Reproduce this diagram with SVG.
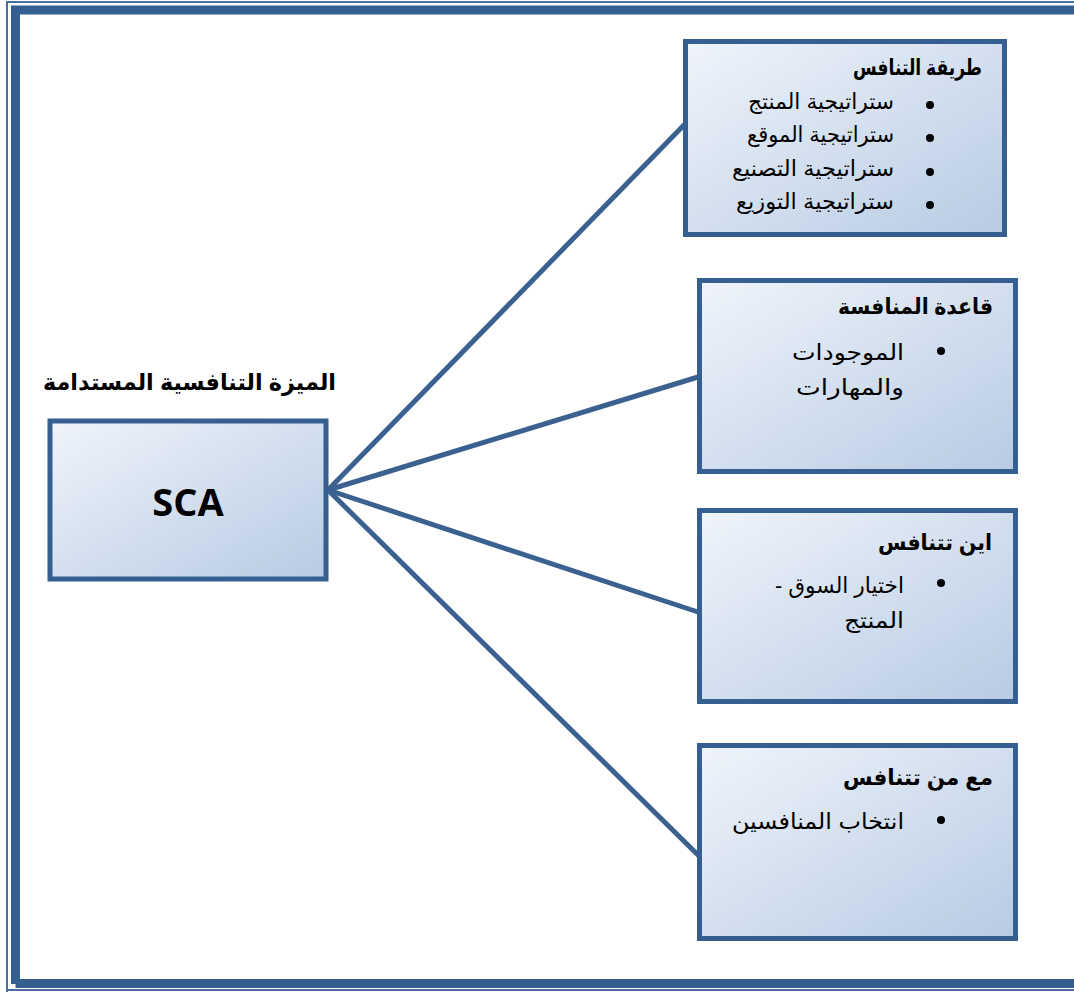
<svg xmlns="http://www.w3.org/2000/svg" width="1074" height="992" viewBox="0 0 1074 992">
  <defs>
    <linearGradient id="boxFill" x1="0" y1="0" x2="1" y2="1">
      <stop offset="0" stop-color="#f0f4fb"/>
      <stop offset="1" stop-color="#b7cbe3"/>
    </linearGradient>
    <style>
      .box { fill: url(#boxFill); stroke: #365f91; stroke-width: 5; }
      .link { stroke: #3a6190; stroke-width: 5; fill: none; stroke-linecap: round; }
      .ar { font-family: "Liberation Sans", "DejaVu Sans", sans-serif; fill: #000; }
      .head { font-size: 22px; font-weight: bold; }
      .item { font-size: 22px; }
      .dot { fill: #000; }
    </style>
  </defs>

  <rect width="1074" height="992" fill="#fff"/>

  <!-- page border: thin outer rule + thick inner rule -->
  <g id="page-border" fill="none">
    <path d="M7 992 V2 H1080" stroke="#4a6f9e" stroke-width="2"/>
    <path d="M7 990 H1080" stroke="#4a6f9e" stroke-width="2"/>
    <path d="M15.5 984 V10 H1080" stroke="#365f91" stroke-width="9"/>
    <path d="M15.5 983.5 H1080" stroke="#365f91" stroke-width="9"/>
  </g>

  <!-- connectors from the SCA node to the four factor boxes -->
  <g id="connectors">
    <line class="link" x1="328" y1="490" x2="685" y2="124"/>
    <line class="link" x1="328" y1="490" x2="698" y2="377"/>
    <line class="link" x1="328" y1="490" x2="698" y2="612"/>
    <line class="link" x1="328" y1="490" x2="698" y2="855"/>
  </g>

  <g id="sca">
    <text class="ar head" x="336" y="390" direction="rtl" text-anchor="start" style="font-size:23px" textLength="293" lengthAdjust="spacingAndGlyphs">الميزة التنافسية المستدامة</text>
    <rect class="box" x="50" y="421" width="276" height="158"/>
    <text x="188" y="516" text-anchor="middle" font-family="'Open Sans', 'Liberation Sans', sans-serif" font-weight="bold" font-size="38">SCA</text>
  </g>

  <g id="how-to-compete">
    <rect class="box" x="685.5" y="41.5" width="319" height="193"/>
    <text class="ar head" x="982" y="75" direction="rtl" text-anchor="start" textLength="129" lengthAdjust="spacingAndGlyphs">طريقة التنافس</text>
    <circle class="dot" cx="930" cy="105" r="4"/>
    <circle class="dot" cx="930" cy="138" r="4"/>
    <circle class="dot" cx="930" cy="172" r="4"/>
    <circle class="dot" cx="930" cy="205" r="4"/>
    <text class="ar item" x="894" y="109" direction="rtl" text-anchor="start" textLength="146" lengthAdjust="spacingAndGlyphs">ستراتيجية المنتج</text>
    <text class="ar item" x="894" y="142" direction="rtl" text-anchor="start" textLength="147" lengthAdjust="spacingAndGlyphs">ستراتيجية الموقع</text>
    <text class="ar item" x="894" y="176" direction="rtl" text-anchor="start" textLength="162" lengthAdjust="spacingAndGlyphs">ستراتيجية التصنيع</text>
    <text class="ar item" x="894" y="209" direction="rtl" text-anchor="start" textLength="158" lengthAdjust="spacingAndGlyphs">ستراتيجية التوزيع</text>
  </g>

  <g id="competition-basis">
    <rect class="box" x="699.5" y="280.5" width="316" height="191"/>
    <text class="ar head" x="993" y="314" direction="rtl" text-anchor="start" textLength="155" lengthAdjust="spacingAndGlyphs">قاعدة المنافسة</text>
    <circle class="dot" cx="941" cy="351" r="4"/>
    <text class="ar item" x="904" y="360" direction="rtl" text-anchor="start" textLength="112" lengthAdjust="spacingAndGlyphs">الموجودات</text>
    <text class="ar item" x="904" y="395" direction="rtl" text-anchor="start" textLength="108" lengthAdjust="spacingAndGlyphs">والمهارات</text>
  </g>

  <g id="where-to-compete">
    <rect class="box" x="699.5" y="510.5" width="316" height="191"/>
    <text class="ar head" x="992" y="550" direction="rtl" text-anchor="start" textLength="114" lengthAdjust="spacingAndGlyphs">اين تتنافس</text>
    <circle class="dot" cx="941" cy="583" r="4"/>
    <text class="ar item" x="904" y="593" direction="rtl" text-anchor="start" textLength="129" lengthAdjust="spacingAndGlyphs">اختيار السوق -</text>
    <text class="ar item" x="904" y="628" direction="rtl" text-anchor="start" textLength="60" lengthAdjust="spacingAndGlyphs">المنتج</text>
  </g>

  <g id="whom-to-compete">
    <rect class="box" x="699.5" y="745.5" width="316" height="193"/>
    <text class="ar head" x="993" y="785" direction="rtl" text-anchor="start" textLength="150" lengthAdjust="spacingAndGlyphs">مع من تتنافس</text>
    <circle class="dot" cx="941" cy="820" r="4"/>
    <text class="ar item" x="904" y="829" direction="rtl" text-anchor="start" textLength="172" lengthAdjust="spacingAndGlyphs">انتخاب المنافسين</text>
  </g>
</svg>
